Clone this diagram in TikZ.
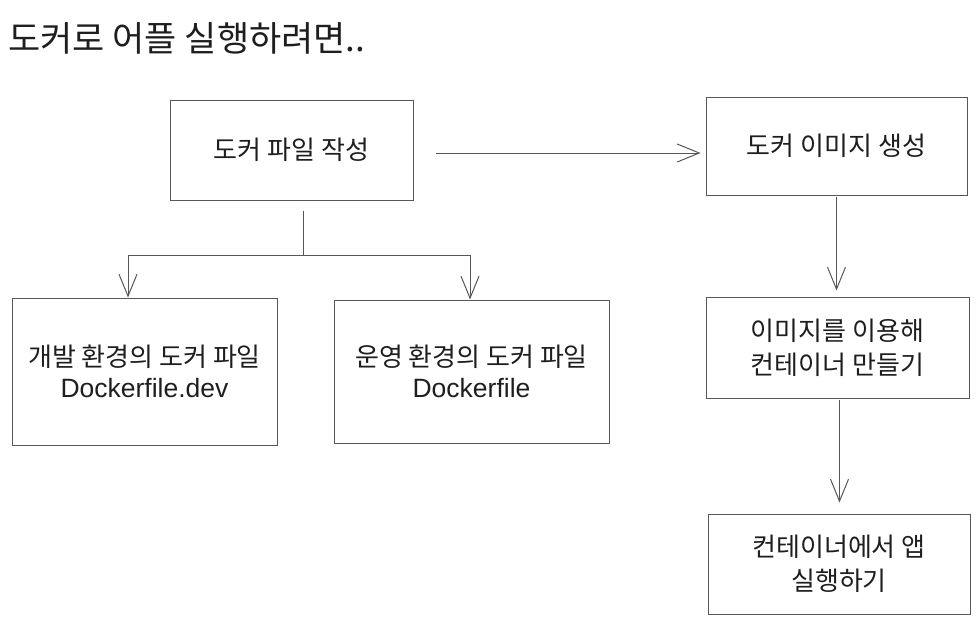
\documentclass[tikz,border=0pt]{standalone}
\usepackage{fontspec}
\setmainfont{Liberation Sans}
\newfontfamily\kr{Noto Sans CJK KR}
\usetikzlibrary{arrows.meta}

\definecolor{ink}{HTML}{1E1E1E}
\definecolor{stroke}{HTML}{575757}

\begin{document}
\begin{tikzpicture}[
    x={(1pt,0pt)},
    y={(0pt,-1pt)},
    >={Straight Barb[length=22pt,width=18pt]},
    box/.style={draw=stroke, line width=1pt, align=center, text=ink,
        inner sep=0pt, font=\kr\fontsize{26}{34}\selectfont},
    link/.style={draw=stroke, line width=1pt}]
    \useasboundingbox (0,0) rectangle (980,621);

    % Title
    \node[anchor=west, text=ink, inner sep=0pt, font=\kr\fontsize{35}{40}\selectfont]
        (title) at (8,38) {도커로 어플 실행하려면..};

    % Boxes
    \node[box, minimum width=243, minimum height=100] (write) at (291.5,150) {도커 파일 작성};
    \node[box, minimum width=261, minimum height=98] (image) at (836.5,146) {도커 이미지 생성};
    \node[box, minimum width=263, minimum height=101] (create) at (837.5,347.5)
        {이미지를 이용해\\컨테이너 만들기};
    \node[box, minimum width=262, minimum height=100] (run) at (839,564)
        {컨테이너에서 앱\\실행하기};
    \node[box, minimum width=265, minimum height=147] (dev) at (144.5,371.5)
        {개발 환경의 도커 파일\\[-3pt]{\normalfont\fontsize{26.5}{30}\selectfont Dockerfile.dev}};
    \node[box, minimum width=275, minimum height=143] (prod) at (471.5,371.5)
        {운영 환경의 도커 파일\\[-3pt]{\normalfont\fontsize{26.5}{30}\selectfont Dockerfile}};

    % Main flow
    \draw[link, ->] ([xshift=22pt]write.east |- 0,153) -- ([xshift=-5pt]image.west |- 0,153);
    \draw[link, ->, shorten <=1pt, shorten >=6pt] (image.south) -- (create.north -| image.south);
    \draw[link, ->, shorten <=1pt, shorten >=11pt] ([xshift=2pt]create.south) -- ([xshift=2pt]run.north -| create.south);

    % Split into the two Dockerfiles
    \coordinate (split) at (303,255);
    \draw[link] ([yshift=-10pt]write.south -| split) -- (split);
    \draw[link, ->] (split) -| ([xshift=-16.5pt]dev.north);
    \draw[link, ->] (split) -| ([xshift=-1.5pt]prod.north);
\end{tikzpicture}
\end{document}
